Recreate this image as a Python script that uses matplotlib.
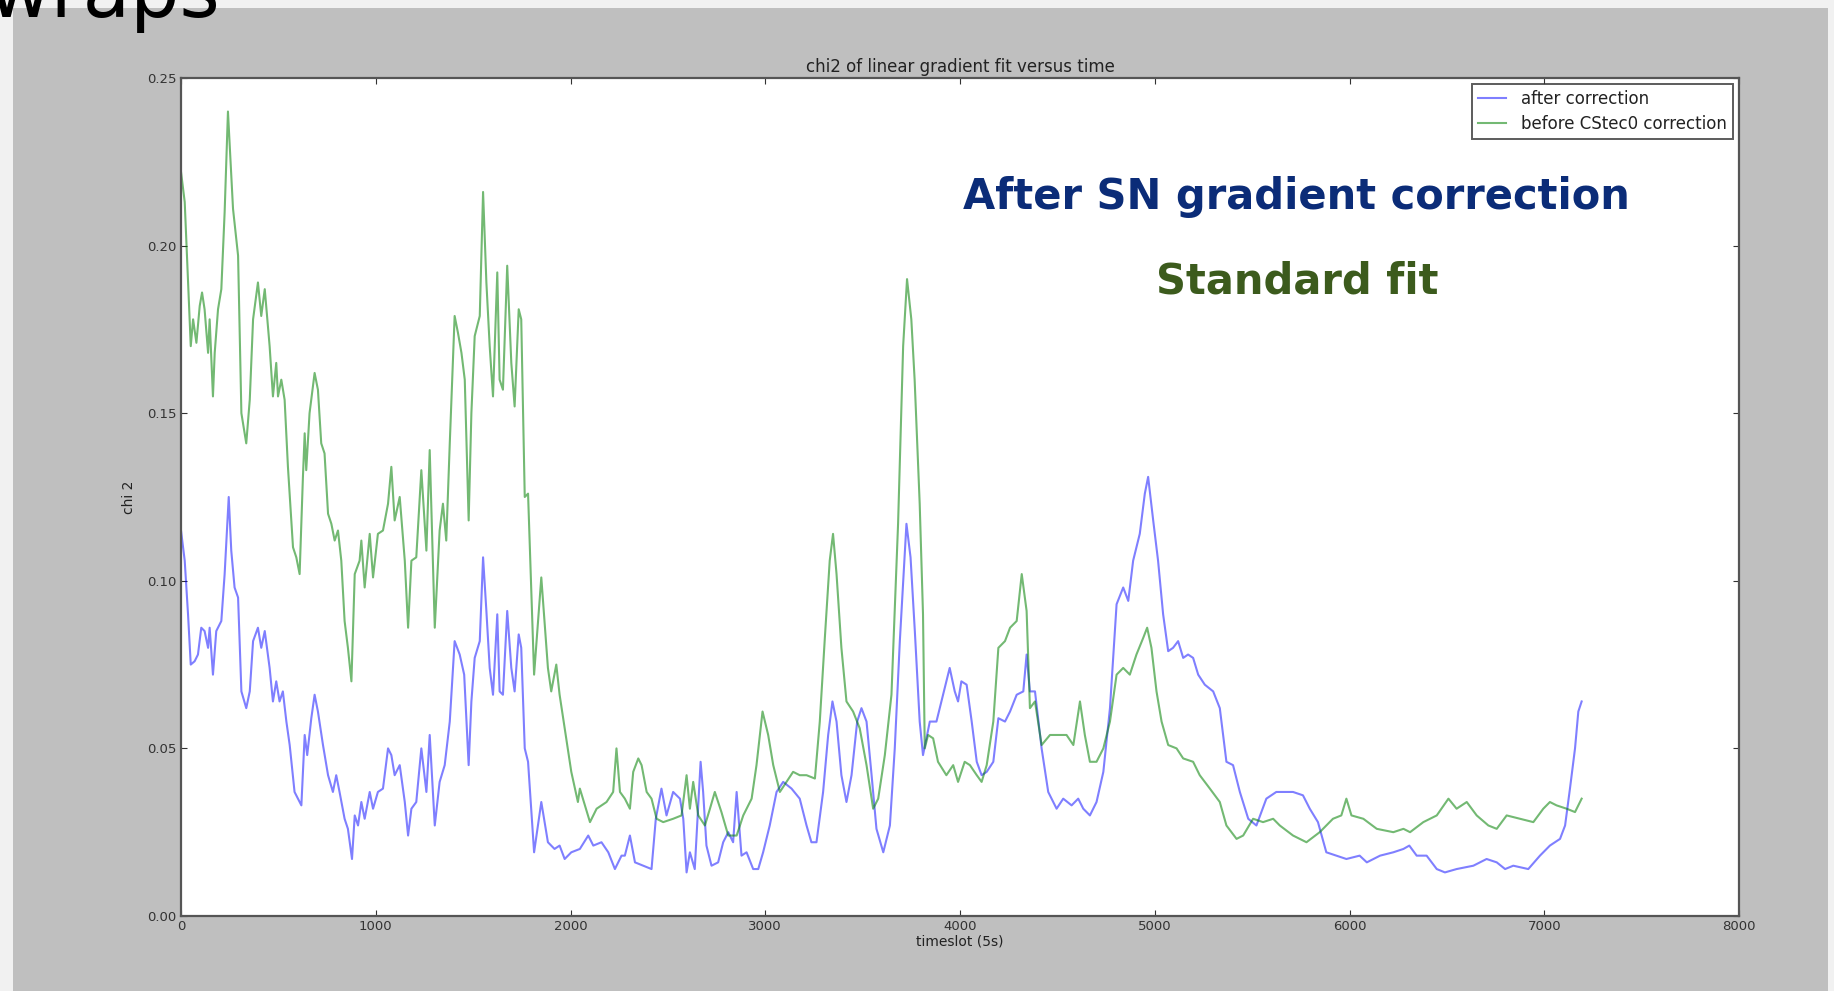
import matplotlib.pyplot as plt
from matplotlib.patches import Rectangle

# chi2 of the linear gradient fit, sampled along the timeslot axis
before_t = [0, 19, 36, 50, 62, 79, 96, 108, 121, 139, 147, 164, 173, 190, 207, 224, 241, 250,
            267, 293, 310, 335, 353, 370, 395, 412, 430, 455, 472, 489, 498, 515, 532, 549,
            575, 592, 609, 626, 635, 643, 660, 686, 703, 720, 737, 755, 772, 789, 806, 823,
            840, 857, 875, 892, 917, 926, 943, 969, 986, 1011, 1037, 1063, 1080, 1097, 1123,
            1149, 1166, 1183, 1208, 1234, 1260, 1277, 1303, 1328, 1345, 1362, 1380, 1405,
            1422, 1440, 1457, 1477, 1491, 1508, 1534, 1551, 1568, 1585, 1602, 1624, 1636,
            1653, 1675, 1696, 1713, 1734, 1747, 1765, 1782, 1813, 1850, 1884, 1901, 1927,
            1944, 1978, 2004, 2038, 2048, 2100, 2134, 2185, 2219, 2236, 2254, 2279, 2305,
            2322, 2348, 2365, 2391, 2416, 2442, 2476, 2527, 2570, 2596, 2613, 2630, 2656,
            2690, 2716, 2741, 2775, 2810, 2853, 2887, 2930, 2955, 2986, 3015, 3041, 3075,
            3109, 3143, 3177, 3212, 3255, 3280, 3306, 3331, 3348, 3366, 3391, 3417, 3451,
            3485, 3520, 3554, 3580, 3614, 3648, 3682, 3708, 3728, 3750, 3767, 3793, 3810,
            3819, 3836, 3862, 3887, 3930, 3965, 3990, 4024, 4051, 4086, 4111, 4137, 4171,
            4197, 4231, 4257, 4291, 4317, 4342, 4359, 4385, 4419, 4462, 4513, 4547, 4582,
            4616, 4641, 4667, 4701, 4736, 4770, 4804, 4838, 4872, 4906, 4941, 4961, 4983,
            5009, 5035, 5069, 5112, 5146, 5197, 5231, 5283, 5334, 5368, 5420, 5454, 5505,
            5556, 5608, 5642, 5710, 5779, 5847, 5915, 5958, 5984, 6010, 6071, 6140, 6225,
            6277, 6311, 6379, 6448, 6508, 6550, 6602, 6653, 6713, 6756, 6807, 6876, 6944,
            6995, 7029, 7063, 7115, 7158, 7192]
before_chi2 = [0.222, 0.213, 0.189, 0.170, 0.178, 0.171, 0.182, 0.186, 0.181, 0.168, 0.178,
               0.155, 0.168, 0.181, 0.187, 0.210, 0.240, 0.230, 0.211, 0.197, 0.150, 0.141,
               0.154, 0.178, 0.189, 0.179, 0.187, 0.170, 0.155, 0.165, 0.155, 0.160, 0.154,
               0.134, 0.110, 0.107, 0.102, 0.131, 0.144, 0.133, 0.150, 0.162, 0.157, 0.141,
               0.138, 0.120, 0.117, 0.112, 0.115, 0.106, 0.088, 0.080, 0.070, 0.102, 0.106,
               0.112, 0.098, 0.114, 0.101, 0.114, 0.115, 0.123, 0.134, 0.118, 0.125, 0.106,
               0.086, 0.106, 0.107, 0.133, 0.109, 0.139, 0.086, 0.115, 0.123, 0.112, 0.141,
               0.179, 0.174, 0.168, 0.160, 0.118, 0.150, 0.173, 0.179, 0.216, 0.189, 0.170,
               0.155, 0.192, 0.160, 0.157, 0.194, 0.165, 0.152, 0.181, 0.178, 0.125, 0.126,
               0.072, 0.101, 0.074, 0.067, 0.075, 0.066, 0.053, 0.043, 0.034, 0.038, 0.028,
               0.032, 0.034, 0.037, 0.050, 0.037, 0.035, 0.032, 0.043, 0.047, 0.045, 0.037,
               0.035, 0.029, 0.028, 0.029, 0.030, 0.042, 0.032, 0.040, 0.030, 0.027, 0.032,
               0.037, 0.031, 0.024, 0.024, 0.030, 0.035, 0.045, 0.061, 0.054, 0.045, 0.037,
               0.040, 0.043, 0.042, 0.042, 0.041, 0.058, 0.083, 0.106, 0.114, 0.102, 0.080,
               0.064, 0.061, 0.056, 0.045, 0.032, 0.035, 0.048, 0.066, 0.117, 0.170, 0.190,
               0.178, 0.160, 0.123, 0.090, 0.050, 0.054, 0.053, 0.046, 0.042, 0.045, 0.040,
               0.046, 0.045, 0.042, 0.040, 0.045, 0.058, 0.080, 0.082, 0.086, 0.088, 0.102,
               0.091, 0.062, 0.064, 0.051, 0.054, 0.054, 0.054, 0.051, 0.064, 0.054, 0.046,
               0.046, 0.050, 0.058, 0.072, 0.074, 0.072, 0.078, 0.083, 0.086, 0.080, 0.067,
               0.058, 0.051, 0.050, 0.047, 0.046, 0.042, 0.038, 0.034, 0.027, 0.023, 0.024,
               0.029, 0.028, 0.029, 0.027, 0.024, 0.022, 0.025, 0.029, 0.030, 0.035, 0.030,
               0.029, 0.026, 0.025, 0.026, 0.025, 0.028, 0.030, 0.035, 0.032, 0.034, 0.030,
               0.027, 0.026, 0.030, 0.029, 0.028, 0.032, 0.034, 0.033, 0.032, 0.031, 0.035]

after_t = [0, 19, 36, 50, 70, 87, 104, 121, 139, 147, 164, 181, 207, 224, 245, 258, 275, 293,
           310, 335, 353, 370, 395, 412, 430, 455, 472, 489, 506, 523, 541, 558, 583, 618,
           635, 648, 669, 686, 703, 729, 755, 780, 797, 814, 840, 857, 878, 892, 909, 926,
           943, 969, 986, 1011, 1037, 1063, 1080, 1097, 1123, 1149, 1166, 1183, 1208, 1234,
           1260, 1277, 1303, 1328, 1354, 1380, 1405, 1431, 1454, 1477, 1491, 1508, 1534,
           1551, 1568, 1585, 1602, 1624, 1636, 1653, 1675, 1696, 1713, 1734, 1747, 1765,
           1782, 1813, 1850, 1884, 1918, 1944, 1970, 2004, 2048, 2091, 2117, 2159, 2194,
           2228, 2262, 2279, 2305, 2331, 2373, 2416, 2438, 2467, 2493, 2527, 2562, 2579,
           2596, 2613, 2638, 2668, 2681, 2698, 2724, 2758, 2784, 2810, 2835, 2853, 2878,
           2904, 2938, 2964, 2989, 3023, 3058, 3092, 3135, 3177, 3212, 3237, 3263, 3297,
           3323, 3345, 3366, 3391, 3417, 3443, 3472, 3494, 3520, 3546, 3571, 3606, 3640,
           3665, 3691, 3725, 3746, 3768, 3793, 3810, 3845, 3879, 3913, 3947, 3973, 3990,
           4007, 4034, 4060, 4086, 4111, 4137, 4171, 4197, 4231, 4257, 4291, 4325, 4342,
           4359, 4385, 4419, 4453, 4496, 4530, 4573, 4607, 4633, 4667, 4701, 4736, 4770,
           4804, 4838, 4864, 4889, 4923, 4949, 4966, 4992, 5017, 5043, 5069, 5094, 5120,
           5146, 5171, 5197, 5223, 5257, 5300, 5334, 5368, 5402, 5437, 5480, 5522, 5573,
           5624, 5667, 5710, 5761, 5796, 5838, 5881, 5933, 5984, 6052, 6089, 6157, 6225,
           6277, 6307, 6345, 6396, 6448, 6490, 6550, 6636, 6704, 6756, 6799, 6841, 6918,
           6978, 7029, 7081, 7107, 7132, 7158, 7175, 7192]
after_chi2 = [0.115, 0.106, 0.090, 0.075, 0.076, 0.078, 0.086, 0.085, 0.080, 0.086, 0.072,
              0.085, 0.088, 0.102, 0.125, 0.109, 0.098, 0.095, 0.067, 0.062, 0.067, 0.082,
              0.086, 0.080, 0.085, 0.074, 0.064, 0.070, 0.064, 0.067, 0.058, 0.051, 0.037,
              0.033, 0.054, 0.048, 0.059, 0.066, 0.061, 0.051, 0.042, 0.037, 0.042, 0.037,
              0.029, 0.026, 0.017, 0.030, 0.027, 0.034, 0.029, 0.037, 0.032, 0.037, 0.038,
              0.050, 0.048, 0.042, 0.045, 0.034, 0.024, 0.032, 0.034, 0.050, 0.037, 0.054,
              0.027, 0.040, 0.045, 0.058, 0.082, 0.078, 0.072, 0.045, 0.064, 0.077, 0.082,
              0.107, 0.091, 0.074, 0.066, 0.090, 0.067, 0.066, 0.091, 0.074, 0.067, 0.084,
              0.080, 0.050, 0.046, 0.019, 0.034, 0.022, 0.020, 0.021, 0.017, 0.019, 0.020,
              0.024, 0.021, 0.022, 0.019, 0.014, 0.018, 0.018, 0.024, 0.016, 0.015, 0.014,
              0.029, 0.038, 0.030, 0.037, 0.035, 0.029, 0.013, 0.019, 0.014, 0.046, 0.037,
              0.021, 0.015, 0.016, 0.022, 0.025, 0.022, 0.037, 0.018, 0.019, 0.014, 0.014,
              0.019, 0.027, 0.037, 0.040, 0.038, 0.035, 0.027, 0.022, 0.022, 0.037, 0.054,
              0.064, 0.058, 0.042, 0.034, 0.042, 0.058, 0.062, 0.058, 0.042, 0.026, 0.019,
              0.027, 0.050, 0.082, 0.117, 0.107, 0.085, 0.058, 0.048, 0.058, 0.058, 0.066,
              0.074, 0.067, 0.064, 0.070, 0.069, 0.058, 0.046, 0.042, 0.043, 0.046, 0.059,
              0.058, 0.061, 0.066, 0.067, 0.078, 0.067, 0.067, 0.050, 0.037, 0.032, 0.035,
              0.033, 0.035, 0.032, 0.030, 0.034, 0.043, 0.062, 0.093, 0.098, 0.094, 0.106,
              0.114, 0.126, 0.131, 0.118, 0.106, 0.090, 0.079, 0.080, 0.082, 0.077, 0.078,
              0.077, 0.072, 0.069, 0.067, 0.062, 0.046, 0.045, 0.037, 0.029, 0.027, 0.035,
              0.037, 0.037, 0.037, 0.036, 0.032, 0.028, 0.019, 0.018, 0.017, 0.018, 0.016,
              0.018, 0.019, 0.020, 0.021, 0.018, 0.018, 0.014, 0.013, 0.014, 0.015, 0.017,
              0.016, 0.014, 0.015, 0.014, 0.018, 0.021, 0.023, 0.027, 0.038, 0.050, 0.061,
              0.064]

fig = plt.figure(figsize=(18.34, 9.91), dpi=100, facecolor='#f1f1f1')

# grey panel behind the plot
fig.patches.append(Rectangle((0.007, 0.0), 0.99, 0.992, transform=fig.transFigure,
                             facecolor='#bfbfbf', edgecolor='none', zorder=-5))

ax = fig.add_axes([0.0987, 0.0757, 0.8495, 0.8456])
ax.set_zorder(1)
ax.set_facecolor('white')

ax.plot(after_t, after_chi2, color='b', alpha=0.5, lw=1.5, label='after correction')
ax.plot(before_t, before_chi2, color='g', alpha=0.55, lw=1.5, label='before CStec0 correction')

ax.set_xlim(0, 8000)
ax.set_ylim(0, 0.25)
ax.set_xticks(range(0, 8001, 1000))
ax.set_yticks([0.0, 0.05, 0.10, 0.15, 0.20, 0.25])
ax.set_yticklabels(['0.00', '0.05', '0.10', '0.15', '0.20', '0.25'])
ax.tick_params(direction='in', top=True, right=True, labelsize=9.5, length=4,
               colors='#333333', pad=3)
for s in ax.spines.values():
    s.set_color('#555555')
    s.set_linewidth(1.6)

ax.set_title('chi2 of linear gradient fit versus time', fontsize=12, color='#222222', pad=4)
ax.set_xlabel('timeslot (5s)', fontsize=10, color='#222222', labelpad=1)
ax.set_ylabel('chi 2', fontsize=10, color='#222222', labelpad=8)

leg = ax.legend(loc='upper right', fontsize=12, fancybox=False, borderaxespad=0.35,
                handlelength=1.7, handletextpad=0.9, labelspacing=0.45, borderpad=0.35)
leg.get_frame().set_edgecolor('#333333')
leg.get_frame().set_linewidth(1.4)
for t in leg.get_texts():
    t.set_color('#222222')

fig.text(0.7067, 0.8012, 'After SN gradient correction', fontsize=30, fontweight='bold',
         color='#0b2c78', ha='center', va='center', family='DejaVu Sans', zorder=5)
fig.text(0.7072, 0.7164, 'Standard fit', fontsize=30, fontweight='bold',
         color='#3c5b1d', ha='center', va='center', family='DejaVu Sans', zorder=5)

# slide heading along the top edge
fig.text(0.12, 0.983, 'wraps', fontsize=56, color='black', ha='right', va='baseline',
         zorder=5)

fig.savefig('out.png', dpi=100, facecolor=fig.get_facecolor())
